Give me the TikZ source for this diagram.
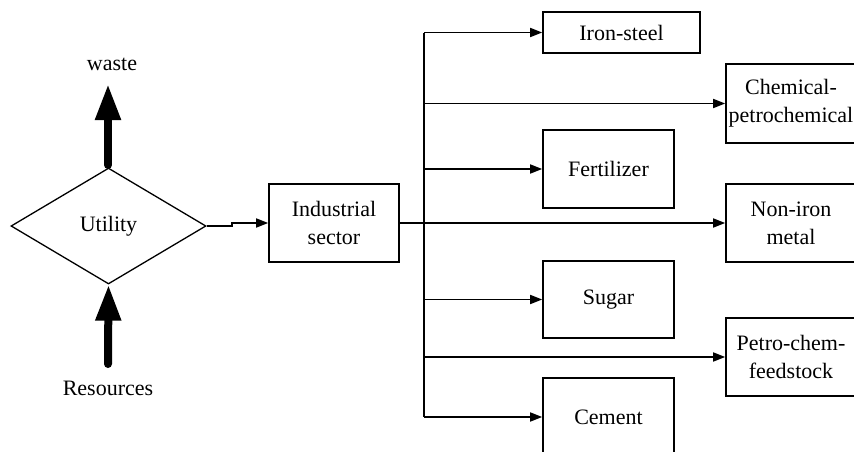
\documentclass[tikz,border=0pt]{standalone}
\usepackage{fontspec}
\setmainfont{Liberation Serif}
\usetikzlibrary{shapes.geometric,arrows.meta}
\begin{document}
\begin{tikzpicture}[x=1pt,y=-1pt,
  every node/.style={font=\fontsize{22}{28}\selectfont},
  box/.style={draw,line width=1.6pt,rectangle,inner sep=0pt,align=center},
  conn/.style={line width=1.6pt,-{Triangle[length=12pt,width=9pt]}},
  plain/.style={line width=1.6pt},
  fat/.style={line width=8pt,line cap=round,-{Triangle[length=36pt,width=24pt]}}]
\useasboundingbox (0,0) rectangle (854,451);
\clip (0,0) rectangle (854,451);
\node[draw,diamond,line width=1.3pt,minimum width=195pt,minimum height=116pt,inner sep=0pt] (u) at (108.5,226) {Utility};
\node (waste) at (112,64) {waste};
\node (res) at (108,388) {Resources};
\coordinate (wtip) at (108,84);
\coordinate (rbase) at (108,364);
\coordinate (wbase) at (108,165);
\draw[fat] (wbase) -- (wtip);
\draw[fat] (rbase) -- (u.south);
\node[box,minimum width=130pt,minimum height=78pt] (ind) at (334,223) {Industrial\\sector};
\coordinate (step) at (232,0);
\draw[conn] (u.east) -- (u.east -| step) |- (ind.west);
\node[box,minimum width=157pt,minimum height=41pt] (iron) at (621.5,32.5) {Iron-steel};
\node[box,minimum width=130pt,minimum height=79pt] (chem) at (791,103.5) {Chemical-\\petrochemical};
\node[box,minimum width=131pt,minimum height=78pt] (fert) at (608.5,169) {Fertilizer};
\node[box,minimum width=130pt,minimum height=78pt] (nonir) at (791,223) {Non-iron\\metal};
\node[box,minimum width=131pt,minimum height=77pt] (sugar) at (608.5,299.5) {Sugar};
\node[box,minimum width=130pt,minimum height=78pt] (petro) at (791,357) {Petro-chem-\\feedstock};
\node[box,minimum width=131pt,minimum height=78pt] (cement) at (608.5,417) {Cement};
\coordinate (tk) at (424,0);
\draw[plain] (iron.west -| tk) -- (cement.west -| tk);
\draw[conn] (ind.east) -- (nonir.west);
\foreach \b in {iron,chem,fert,sugar,petro,cement}{
  \draw[conn] (\b.west -| tk) -- (\b.west);
}
\end{tikzpicture}
\end{document}
